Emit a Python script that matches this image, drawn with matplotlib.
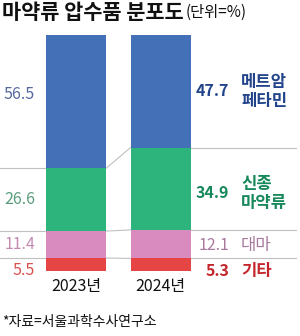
import matplotlib
matplotlib.use("Agg")
import matplotlib.pyplot as plt
import numpy as np

plt.rcParams['font.family'] = ['Noto Sans CJK KR', 'DejaVu Sans']

# ---- data (bottom -> top) ----
years      = ["2023년", "2024년"]
categories = ["기타", "대마", "신종\n마약류", "메트암\n페타민"]
vals_2023  = [5.5, 11.4, 26.6, 56.5]
vals_2024  = [5.3, 12.1, 34.9, 47.7]

bar_colors   = ["#e64545", "#d98bc0", "#2db47c", "#4470b8"]
left_colors  = ["#d9534f", "#c48ab4", "#5a9e7c", "#5868a0"]
right_colors = ["#c4262c", "#a87a9e", "#16885a", "#22448a"]
right_weight = ["bold", "medium", "bold", "bold"]

W = 0.71
LINE = "#c0c0c0"

fig = plt.figure(figsize=(3.0, 3.36), dpi=100)
ax = fig.add_axes([0, 0.1935, 1, 0.7024])
ax.set_xlim(-0.9, 2.65)
ax.set_ylim(0, 100)
ax.axis("off")

v23 = np.array(vals_2023)
v24 = np.array(vals_2024)
b23 = np.concatenate([[0], np.cumsum(v23)[:-1]])
b24 = np.concatenate([[0], np.cumsum(v24)[:-1]])

for i in range(len(categories)):
    ax.bar([0, 1], [v23[i], v24[i]], bottom=[b23[i], b24[i]], width=W,
           color=bar_colors[i], edgecolor="none", zorder=2)

# connector and guide lines at segment boundaries
for i in range(1, len(categories)):
    ax.plot([W / 2, 1 - W / 2], [b23[i], b24[i]], color=LINE, lw=0.8, zorder=1)
    ax.plot([-0.9, -W / 2], [b23[i], b23[i]], color=LINE, lw=0.8, zorder=1)
    ax.plot([1 + W / 2, 2.6], [b24[i], b24[i]], color=LINE, lw=0.8, zorder=1)

# value labels
y23 = b23 + v23 / 2
y24 = b24 + v24 / 2
y23[0] = 0
y24[0] = 0
y23[-1] += 3
y24[1] -= 0.5
y24[2] -= 2
for i in range(len(categories)):
    ax.text(-0.485, y23[i], f"{v23[i]:.1f}", ha="right", va="center",
            fontsize=11.5, color=left_colors[i], fontweight="medium")
    ax.text(1.81, y24[i], f"{v24[i]:.1f}", ha="right", va="center",
            fontsize=11.5, color=right_colors[i], fontweight=right_weight[i])
    ax.text(1.953, y24[i], categories[i], ha="left", va="center",
            fontsize=12, color=right_colors[i], fontweight=right_weight[i],
            linespacing=1.05)

# year labels
for x, yr in zip([0, 1], years):
    ax.text(x, -6.5, yr, ha="center", va="center", fontsize=11.5, color="#111111")

# title and source
fig.text(0.008, 0.963, "마약류 압수품 분포도", fontsize=15, fontweight="bold",
         ha="left", va="center", color="#111111")
fig.text(0.62, 0.963, "(단위=%)", fontsize=11, ha="left", va="center",
         color="#111111")
fig.text(0.008, 0.042, "*자료=서울과학수사연구소", fontsize=10, ha="left",
         va="center", color="#111111")

fig.savefig("out.png", dpi=100)
